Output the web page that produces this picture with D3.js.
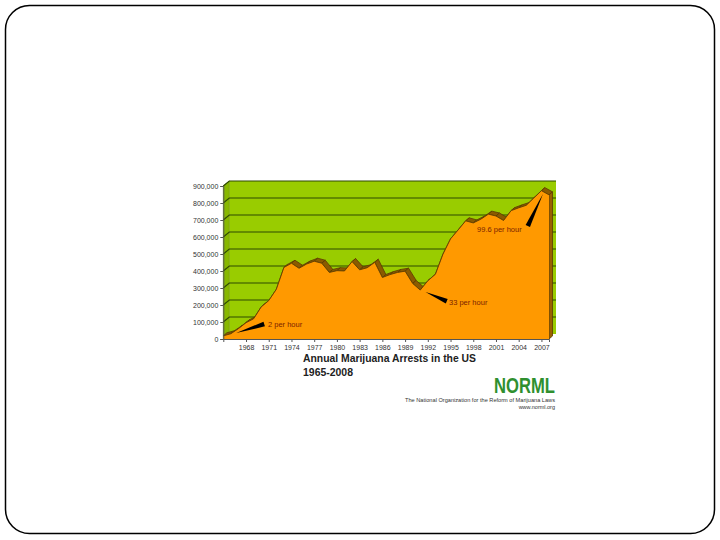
<!DOCTYPE html>
<meta charset="utf-8">
<style>
body { margin: 0; background: #fff; }
text { font-family: "Liberation Sans", Arial, sans-serif; }
</style>
<svg width="720" height="540"></svg>
<script src="https://d3js.org/d3.v7.min.js"></script>
<script>

// data
var years = [1965,1966,1967,1968,1969,1970,1971,1972,1973,1974,1975,1976,1977,1978,1979,
  1980,1981,1982,1983,1984,1985,1986,1987,1988,1989,1990,1991,1992,1993,1994,1995,1996,
  1997,1998,1999,2000,2001,2002,2003,2004,2005,2006,2007,2008];
var arrests = [18800,31000,61000,95900,118900,188700,225800,292200,420700,445600,416100,441100,
  457600,445800,391600,402000,400300,455600,406900,419400,451100,361800,378700,391600,399000,
  326900,287900,342300,380700,499100,589000,641600,695200,682900,704800,734500,723600,697100,
  755200,771600,786500,829600,872700,847900];
var yTicks = [0,100000,200000,300000,400000,500000,600000,700000,800000,900000];
var xTickYears = [1968,1971,1974,1977,1980,1983,1986,1989,1992,1995,1998,2001,2004,2007];
var annotations = [
  {label: "2 per hour", tip: [1966.7, 35000], tail: [1970.4, 88000], at: [1970.9, 70000], anchor: "start"},
  {label: "33 per hour", tip: [1991.7, 276000], tail: [1994.5, 222000], at: [1994.8, 200000], anchor: "start"},
  {label: "99.6 per hour", tip: [2007.2, 853000], tail: [2005.2, 665000], at: [2004.4, 632000], anchor: "end"}
];

var svg = d3.select("svg");

// slide frame
svg.append("rect")
  .attr("x", 5.5).attr("y", 5.5).attr("width", 709).attr("height", 528)
  .attr("rx", 24).attr("fill", "none").attr("stroke", "#000").attr("stroke-width", 1.5);

var x = d3.scaleLinear().domain([1965, 2008]).range([223.3, 549]);
var y = d3.scaleLinear().domain([0, 900000]).range([339, 186]);
var dx = 6, dy = -5;     // depth of the walls
var ax = 3.5, ay = -3;   // depth of the area
var x0 = x.range()[0], x1 = x.range()[1];

// back wall
svg.append("rect")
  .attr("x", x0 + dx).attr("y", y(900000) + dy)
  .attr("width", x1 - x0 + 1).attr("height", y(0) - y(900000))
  .attr("fill", "#99cc00");
// left wall
svg.append("polygon")
  .attr("points", [[x0, y(900000)], [x0 + dx, y(900000) + dy], [x0 + dx, y(0) + dy], [x0, y(0)]].join(" "))
  .attr("fill", "#88b800").attr("stroke", "#6f9400").attr("stroke-width", 0.6);

// grid lines
svg.append("g").selectAll("polyline")
  .data(yTicks.slice(1))
  .enter().append("polyline")
  .attr("points", function(d) {
    return [[x0, y(d)], [x0 + dx, y(d) + dy], [x1 + dx + 1, y(d) + dy]].join(" ");
  })
  .attr("fill", "none").attr("stroke", "#2f4a00").attr("stroke-width", 1.2);

var pts = years.map(function(yr, i) { return [x(yr), y(arrests[i])]; });

// top surface of the area
var topFaces = svg.append("g");
for (var i = 0; i < pts.length - 1; i++) {
  var a = pts[i], b = pts[i + 1];
  topFaces.append("polygon")
    .attr("points", [a, b, [b[0] + ax, b[1] + ay], [a[0] + ax, a[1] + ay]].join(" "))
    .attr("fill", "#8a5a00").attr("stroke", "#5c3a00").attr("stroke-width", 0.8);
}
// right side
var last = pts[pts.length - 1];
svg.append("polygon")
  .attr("points", [last, [last[0] + ax, last[1] + ay], [last[0] + ax, y(0) + ay], [last[0], y(0)]].join(" "))
  .attr("fill", "#9a6000").attr("stroke", "#5c3a00").attr("stroke-width", 0.8);

// front face
var area = d3.area()
  .x(function(d, i) { return x(years[i]); })
  .y0(y(0))
  .y1(function(d) { return y(d); });
svg.append("path")
  .attr("d", area(arrests))
  .attr("fill", "#ff9900");
svg.append("path")
  .attr("d", d3.line().x(function(d, i) { return x(years[i]); }).y(function(d) { return y(d); })(arrests))
  .attr("fill", "none").attr("stroke", "#6b4400").attr("stroke-width", 1);

// axes
var fmt = d3.format(",");
var yAxis = svg.append("g").attr("transform", "translate(" + x0 + ",0)")
  .call(d3.axisLeft(y).tickValues(yTicks).tickFormat(fmt).tickSize(3).tickPadding(2));
var xAxis = svg.append("g").attr("transform", "translate(0," + y(0) + ")")
  .call(d3.axisBottom(x).tickValues(xTickYears).tickFormat(d3.format("d")).tickSize(3).tickPadding(3));
[yAxis, xAxis].forEach(function(g) {
  g.select(".domain").attr("stroke", "#555");
  g.selectAll(".tick line").attr("stroke", "#555");
  g.selectAll("text").attr("fill", "#333").style("font-size", "7px")
    .style("font-family", "'Liberation Sans', Arial, sans-serif");
});

// annotations: tapered black arrows
annotations.forEach(function(an) {
  var t = [x(an.tip[0]), y(an.tip[1])], e = [x(an.tail[0]), y(an.tail[1])];
  var len = Math.hypot(e[0] - t[0], e[1] - t[1]);
  var nx = -(e[1] - t[1]) / len * 2.4, ny = (e[0] - t[0]) / len * 2.4;
  svg.append("polygon")
    .attr("points", [t, [e[0] + nx, e[1] + ny], [e[0] - nx, e[1] - ny]].join(" "))
    .attr("fill", "#000");
  svg.append("text")
    .attr("x", x(an.at[0])).attr("y", y(an.at[1]))
    .attr("text-anchor", an.anchor)
    .attr("fill", "#7a1f00").style("font-size", "7.5px")
    .text(an.label);
});

// titles
svg.append("text").attr("x", 303).attr("y", 362)
  .attr("textLength", 173).attr("lengthAdjust", "spacingAndGlyphs")
  .attr("fill", "#222").style("font-size", "11px").style("font-weight", "bold")
  .text("Annual Marijuana Arrests in the US");
svg.append("text").attr("x", 303).attr("y", 376)
  .attr("textLength", 50).attr("lengthAdjust", "spacingAndGlyphs")
  .attr("fill", "#222").style("font-size", "11px").style("font-weight", "bold")
  .text("1965-2008");

// NORML logo
svg.append("text").attr("transform", "translate(494,393) scale(1,1.2)")
  .attr("textLength", 61).attr("lengthAdjust", "spacingAndGlyphs")
  .attr("fill", "#2f8f2f").style("font-size", "18px").style("font-weight", "900")
  .text("NORML");
svg.append("text").attr("x", 555).attr("y", 402).attr("text-anchor", "end")
  .attr("textLength", 150).attr("lengthAdjust", "spacingAndGlyphs")
  .attr("fill", "#333").style("font-size", "5.5px")
  .text("The National Organization for the Reform of Marijuana Laws");
svg.append("text").attr("x", 555).attr("y", 409).attr("text-anchor", "end")
  .attr("fill", "#333").style("font-size", "5.5px")
  .text("www.norml.org");
</script>
